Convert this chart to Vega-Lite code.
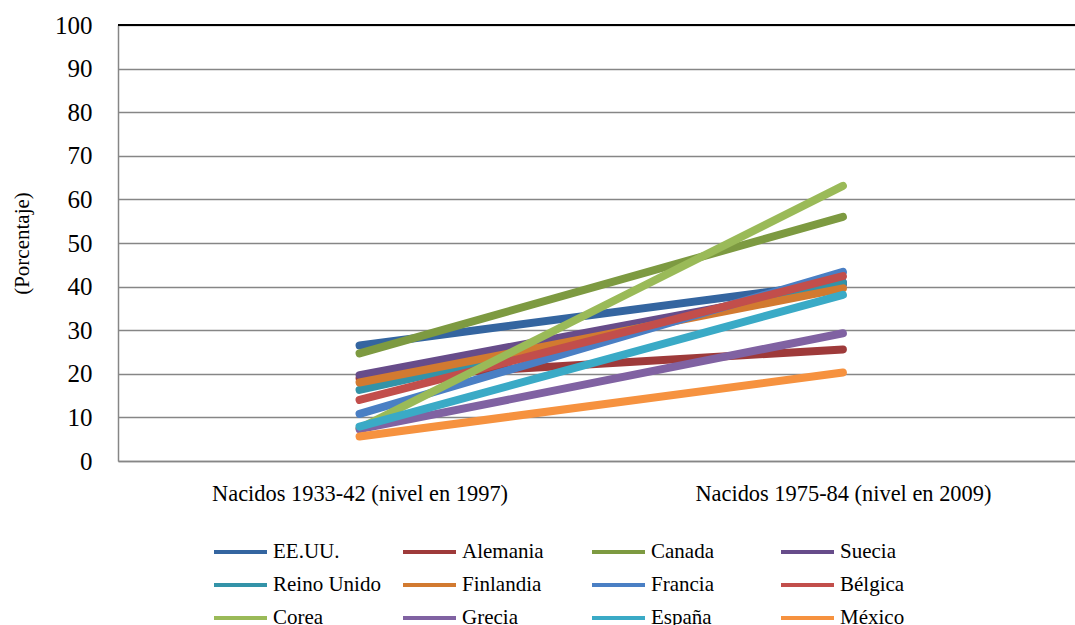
{
  "$schema": "https://vega.github.io/schema/vega-lite/v6.json",
  "autosize": {"type": "none"},
  "padding": {"left": 118, "top": 25, "right": 0, "bottom": 164},
  "width": 957,
  "height": 436,
  "background": "white",
  "config": {
    "view": {"stroke": null},
    "font": "Liberation Serif",
    "axis": {"labelColor": "#000000", "titleColor": "#000000"}
  },
  "data": {
    "values": [
      {"pais": "EE.UU.", "cohorte": "Nacidos 1933-42 (nivel en 1997)", "valor": 26.5},
      {"pais": "EE.UU.", "cohorte": "Nacidos 1975-84 (nivel en 2009)", "valor": 41.0},
      {"pais": "Alemania", "cohorte": "Nacidos 1933-42 (nivel en 1997)", "valor": 19.0},
      {"pais": "Alemania", "cohorte": "Nacidos 1975-84 (nivel en 2009)", "valor": 25.6},
      {"pais": "Canada", "cohorte": "Nacidos 1933-42 (nivel en 1997)", "valor": 24.7},
      {"pais": "Canada", "cohorte": "Nacidos 1975-84 (nivel en 2009)", "valor": 56.0},
      {"pais": "Suecia", "cohorte": "Nacidos 1933-42 (nivel en 1997)", "valor": 19.7},
      {"pais": "Suecia", "cohorte": "Nacidos 1975-84 (nivel en 2009)", "valor": 40.5},
      {"pais": "Reino Unido", "cohorte": "Nacidos 1933-42 (nivel en 1997)", "valor": 16.3},
      {"pais": "Reino Unido", "cohorte": "Nacidos 1975-84 (nivel en 2009)", "valor": 40.8},
      {"pais": "Finlandia", "cohorte": "Nacidos 1933-42 (nivel en 1997)", "valor": 18.0},
      {"pais": "Finlandia", "cohorte": "Nacidos 1975-84 (nivel en 2009)", "valor": 39.6},
      {"pais": "Francia", "cohorte": "Nacidos 1933-42 (nivel en 1997)", "valor": 10.8},
      {"pais": "Francia", "cohorte": "Nacidos 1975-84 (nivel en 2009)", "valor": 43.4},
      {"pais": "Bélgica", "cohorte": "Nacidos 1933-42 (nivel en 1997)", "valor": 14.0},
      {"pais": "Bélgica", "cohorte": "Nacidos 1975-84 (nivel en 2009)", "valor": 42.4},
      {"pais": "Corea", "cohorte": "Nacidos 1933-42 (nivel en 1997)", "valor": 7.5},
      {"pais": "Corea", "cohorte": "Nacidos 1975-84 (nivel en 2009)", "valor": 63.1},
      {"pais": "Grecia", "cohorte": "Nacidos 1933-42 (nivel en 1997)", "valor": 7.3},
      {"pais": "Grecia", "cohorte": "Nacidos 1975-84 (nivel en 2009)", "valor": 29.3},
      {"pais": "España", "cohorte": "Nacidos 1933-42 (nivel en 1997)", "valor": 7.9},
      {"pais": "España", "cohorte": "Nacidos 1975-84 (nivel en 2009)", "valor": 38.1},
      {"pais": "México", "cohorte": "Nacidos 1933-42 (nivel en 1997)", "valor": 5.6},
      {"pais": "México", "cohorte": "Nacidos 1975-84 (nivel en 2009)", "valor": 20.3}
    ]
  },
  "layer": [
    {
      "mark": {"type": "rule", "color": "#000000", "strokeWidth": 1.5},
      "encoding": {"y": {"datum": 100, "type": "quantitative"}}
    },
    {
      "mark": {"type": "line", "strokeWidth": 8, "strokeCap": "round", "strokeJoin": "round"},
      "encoding": {
        "x": {
          "field": "cohorte",
          "type": "nominal",
          "sort": null,
          "scale": {"type": "point", "padding": 0.49, "align": 0.51},
          "axis": {
            "title": null,
            "labelAngle": 0,
            "labelFont": "Liberation Serif",
            "labelFontSize": 22.4,
            "labelPadding": 21,
            "labelLimit": 400,
            "ticks": false,
            "domainColor": "#868686",
            "domainWidth": 1.5,
            "grid": false
          }
        },
        "y": {
          "field": "valor",
          "type": "quantitative",
          "scale": {"domain": [0, 100], "nice": false},
          "axis": {
            "title": "(Porcentaje)",
            "titleFont": "Liberation Serif",
            "titleFontSize": 21,
            "titleFontWeight": "normal",
            "titlePadding": 22,
            "values": [0, 10, 20, 30, 40, 50, 60, 70, 80, 90, 100],
            "labelFont": "Liberation Serif",
            "labelFontSize": 25,
            "labelPadding": 26,
            "ticks": false,
            "grid": true,
            "gridColor": "#868686",
            "gridWidth": 1.5,
            "domainColor": "#868686",
            "domainWidth": 1.5
          }
        },
        "color": {
          "field": "pais",
          "type": "nominal",
          "scale": {
            "domain": ["EE.UU.", "Alemania", "Canada", "Suecia", "Reino Unido", "Finlandia", "Francia", "Bélgica", "Corea", "Grecia", "España", "México"],
            "range": ["#3465A0", "#9E3A3A", "#7D9A41", "#674C8A", "#3393A8", "#D27A30", "#4A7FC4", "#C24E4B", "#9ABA58", "#8062A2", "#3AAAC6", "#F6923F"]
          },
          "legend": {
            "title": null,
            "orient": "none",
            "legendX": 94,
            "legendY": 517,
            "direction": "horizontal",
            "columns": 4,
            "gridAlign": "all",
            "columnPadding": 20,
            "rowPadding": 12,
            "clipHeight": 20,
            "padding": 0,
            "symbolType": "stroke",
            "symbolSize": 2809,
            "symbolStrokeWidth": 4,
            "labelFont": "Liberation Serif",
            "labelFontSize": 21,
            "labelOffset": 4,
            "labelColor": "#000000",
            "labelLimit": 300
          }
        }
      }
    }
  ]
}
